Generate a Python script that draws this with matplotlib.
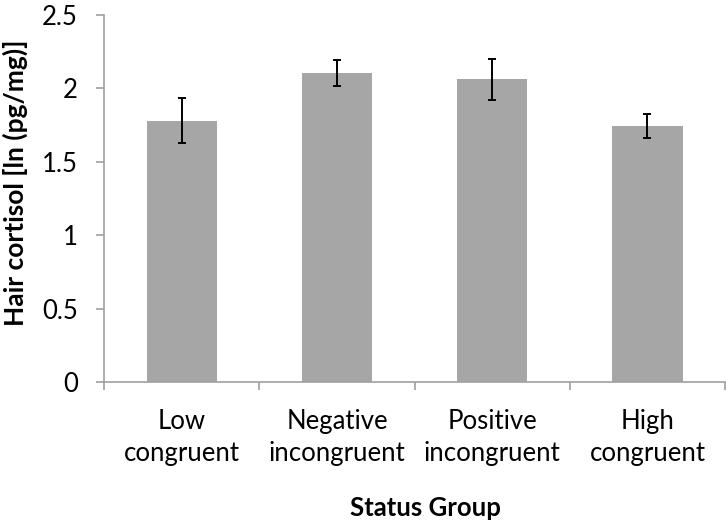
import matplotlib.pyplot as plt
import numpy as np

groups = ['Low\ncongruent', 'Negative\nincongruent', 'Positive\nincongruent', 'High\ncongruent']
means = [1.78, 2.105, 2.06, 1.745]
errs = [0.155, 0.09, 0.14, 0.082]

plt.rcParams['font.family'] = ['Lato', 'DejaVu Sans']

fig = plt.figure(figsize=(7.26, 5.26), dpi=100)
ax = fig.add_axes([104.3 / 726, 1 - 382.3 / 526, (725 - 104.3) / 726, (382.3 - 14.7) / 526])

x = np.arange(len(groups))
ax.bar(x, means, width=0.453, color='#a6a6a6', zorder=2)
ax.errorbar(x, means, yerr=errs, fmt='none', ecolor='black', elinewidth=1.4,
            capsize=3, capthick=1.4, zorder=3)

ax.set_xlim(-0.5, 3.5)
ax.set_ylim(0, 2.5)
ax.set_yticks(np.arange(0, 2.51, 0.5))
ax.set_yticklabels(['0', '0.5', '1', '1.5', '2', '2.5'])

ax.set_xticks(x)
ax.set_xticklabels(groups, fontsize=18.5, linespacing=1.35)
ax.set_xticks(np.arange(-0.5, 3.6, 1), minor=True)
ax.tick_params(axis='x', which='major', length=0, pad=19)
ax.tick_params(axis='x', which='minor', length=6, width=1.2, color='#a0a0a0', direction='out')
ax.tick_params(axis='y', length=6, width=1.2, color='#a0a0a0', labelsize=18.5, pad=13)

for s in ['top', 'right']:
    ax.spines[s].set_visible(False)
for s in ['left', 'bottom']:
    ax.spines[s].set_color('#a0a0a0')
    ax.spines[s].set_linewidth(1.2)

ax.set_ylabel('Hair cortisol [ln (pg/mg)]', fontsize=19, fontweight='bold')
ax.yaxis.set_label_coords(-0.123, 0.542)
ax.set_xlabel('Status Group', fontsize=18.5, fontweight='bold')
ax.xaxis.set_label_coords(0.517, -0.31)

fig.savefig('out.png', dpi=100)
